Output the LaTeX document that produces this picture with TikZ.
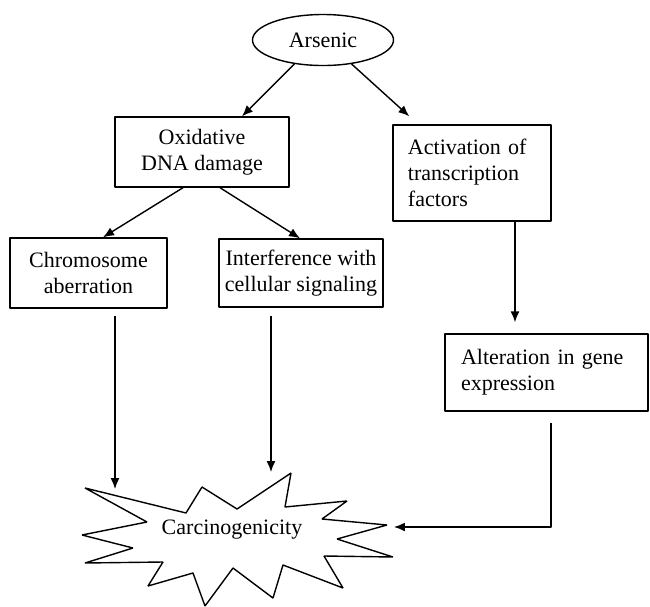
\documentclass[tikz,border=0pt]{standalone}
\usepackage{fontspec}
\setmainfont{Liberation Serif}
\usetikzlibrary{arrows.meta,shapes}

\begin{document}
\begin{tikzpicture}[>={Latex[length=5.5pt,width=4.5pt]},line join=bevel,x=0.5pt,y=-0.5pt,
  font=\fontsize{11}{13}\selectfont,
  box/.style={rectangle,draw,line width=0.7pt,align=center,inner sep=2pt},
  leftbox/.style={rectangle,draw,line width=0.7pt,align=left,inner xsep=#1},
  link/.style={->,line width=0.7pt},
  ]
\useasboundingbox (0,0) rectangle (650,607);
%%
  \node (ars) at (323,40) [ellipse,draw,line width=0.7pt,minimum width=70.5pt,minimum height=25.5pt] {Arsenic};
  \node (oxi) at (202,152) [box,minimum width=87pt,minimum height=35pt] {Oxidative\\DNA damage};
  \node (act) at (472,173) [leftbox=7.5pt,text width=64pt,minimum height=48pt] {Activation of\\transcription\\factors};
  \node (chrom) at (88.5,273) [box,minimum width=78.5pt,minimum height=35pt] {Chromosome\\aberration};
  \node (intf) at (301,273) [box,minimum width=82pt,minimum height=34pt] {Interference with\\cellular signaling};
  \node (alt) at (546.5,372.5) [leftbox=8pt,text width=85.5pt,minimum height=38.5pt] {Alteration in gene\\expression};

\begin{scope}[line width=0.7pt]
  \draw (85,488) -- (186,513) -- (202,487) -- (237,509) -- (291,473) -- (285,507)
     -- (347,501) -- (322,519) -- (387,525) -- (337,539) -- (393,557) -- (324,556)
     -- (343,588) -- (283,565) -- (273,598) -- (233,568) -- (205,606) -- (193,573)
     -- (148,586) -- (163,562) -- (85,563) -- (133,548) -- (82,535) -- (147,522) -- cycle;
\end{scope}
  \node (carc) at (232,530) {Carcinogenicity};
  \coordinate (carcL) at (115,489);
  \coordinate (carcM) at (271,472);
  \coordinate (carcR) at (394,527);

  \draw [link] (ars.-140) -- ([xshift=20pt]oxi.north);
  \draw [link] (ars.-40) -- ([xshift=8.5pt,yshift=4pt]act.north west);
  \draw [link] ([xshift=-9.5pt]oxi.south) -- ([xshift=7.25pt]chrom.north);
  \draw [link] ([xshift=9pt]oxi.south) -- ([xshift=-0.5pt]intf.north);
  \draw [link,shorten >=5.5pt] ([xshift=21.5pt]act.south) -- ([xshift=21.5pt]act.south |- alt.north);
  \draw [link,shorten <=3.5pt] (chrom.south -| carcL) -- (carcL);
  \draw [link,shorten <=4pt] (intf.south -| carcM) -- (carcM);
  \draw [link,shorten <=5.5pt] ([xshift=2.25pt]alt.south) |- (carcR);
%
\end{tikzpicture}
\end{document}
